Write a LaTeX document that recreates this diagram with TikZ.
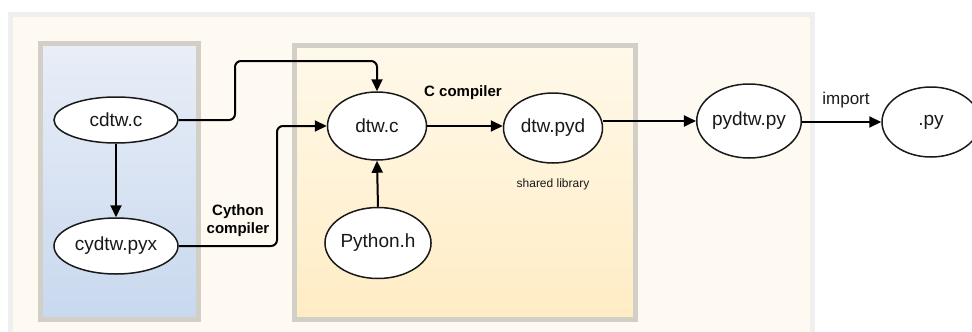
\documentclass[tikz,border=0pt]{standalone}
\usepackage{fontspec}
\setmainfont{Liberation Sans}
\usetikzlibrary{arrows.meta,shapes.geometric,calc}
\definecolor{outerfill}{RGB}{255,250,241}
\definecolor{outerline}{RGB}{239,239,239}
\definecolor{boxline}{RGB}{210,207,199}
\definecolor{bluetop}{RGB}{233,238,247}
\definecolor{bluebot}{RGB}{200,216,238}
\definecolor{yeltop}{RGB}{255,249,234}
\definecolor{yelbot}{RGB}{255,236,196}
\definecolor{ink}{RGB}{25,25,25}
\tikzset{
  file/.style={ellipse, draw=ink, line width=1.5pt, fill=white, inner sep=0pt,
    font=\fontsize{19}{22}\selectfont, text=ink},
  arr/.style={line width=2pt, draw=black, -{Triangle[length=12pt,width=11pt]}},
  lbl/.style={font=\bfseries\fontsize{15}{18}\selectfont, align=center},
}
\begin{document}
\begin{tikzpicture}[x=1pt,y=-1pt]
\useasboundingbox (0,0) rectangle (972,332);
% outer container
\draw[line width=5pt, draw=outerline, fill=outerfill] (10.5,14.5) rectangle (812.5,345);
% blue group
\shade[top color=bluetop, bottom color=bluebot] (40.5,43.5) rectangle (198.5,319.5);
\draw[line width=5pt, draw=boxline] (40.5,43.5) rectangle (198.5,319.5);
% yellow group
\shade[top color=yeltop, bottom color=yelbot] (294.5,45.5) rectangle (635.5,319.5);
\draw[line width=5pt, draw=boxline] (294.5,45.5) rectangle (635.5,319.5);

% nodes
\node[file, minimum width=124pt, minimum height=46pt] (cdtw) at (116,120) {cdtw.c};
\node[file, minimum width=124pt, minimum height=56pt] (cydtw) at (116,246) {cydtw.pyx};
\node[file, minimum width=99pt, minimum height=68pt] (dtwc) at (377,126) {dtw.c};
\node[file, minimum width=99pt, minimum height=70pt] (pyd) at (553,128) {dtw.pyd};
\node[file, minimum width=98pt, minimum height=71pt] (pyh) at (378,243) {Python.h};
\node[file, minimum width=98pt, minimum height=74pt] (pydtw) at (749,121) {pydtw.py};
\node[file, minimum width=98pt, minimum height=70pt] (dotpy) at (931,122) {.py};

% labels
\node[lbl] (cython) at (238,221) {Cython\\compiler};
\node[lbl] (ccomp) at (463,93) {C compiler};
\node[font=\fontsize{12}{14}\selectfont, text=ink] (shared) at (553,184) {shared library};
\node[font=\fontsize{17}{20}\selectfont, text=ink] (imp) at (846,100) {import};

% bend points
\coordinate (k1) at (235,61);
\coordinate (k2) at (277,126);

% connectors
\draw[arr, rounded corners=6pt] (cdtw.east) -| (k1) -| (dtwc.north);
\draw[arr, rounded corners=6pt] (cydtw.east) -| (k2) -- (dtwc.west);
\draw[arr] (cdtw.south) -- (cydtw.north);
\draw[arr] (pyh.north) -- (dtwc.south);
\draw[arr] (dtwc.east) -- (dtwc.east -| pyd.west);
\draw[arr] (pyd.east |- pydtw.west) -- (pydtw.west);
\draw[arr] (pydtw.east |- dotpy.west) -- (dotpy.west);
\end{tikzpicture}
\end{document}
